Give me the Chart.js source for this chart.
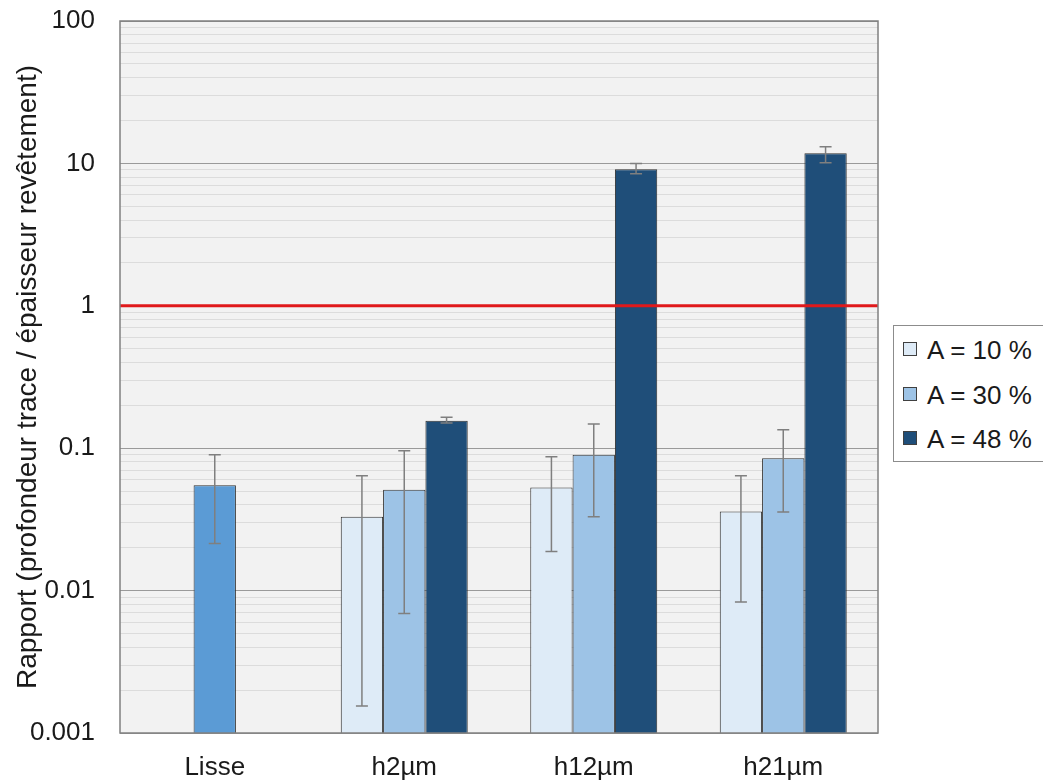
<!DOCTYPE html>
<html>
<head>
<meta charset="utf-8">
<script src="https://cdn.jsdelivr.net/npm/chart.js@4/dist/chart.umd.min.js"></script>
<style>
    body { margin: 0; background: #ffffff; font-family: "Liberation Sans", Arial, sans-serif; }
    #wrap { position: relative; width: 1043px; height: 783px; }
    #legend {
        position: absolute; left: 893px; top: 325px; width: 160px; height: 137px;
        border: 1px solid #8c8c8c; background: #ffffff; box-sizing: border-box;
    }
    .item { position: absolute; left: 33px; font-size: 26px; color: #1a1a1a; line-height: 30px; white-space: nowrap; }
    .swatch { position: absolute; left: 9px; width: 12px; height: 12px; border: 1px solid #404040; }
</style>
</head>
<body>
<div id="wrap">
    <canvas id="chart"></canvas>
    <div id="legend"></div>
</div>
<script>
// Categories and series
const categories = ['Lisse', 'h2\u00b5m', 'h12\u00b5m', 'h21\u00b5m'];
const seriesLabels = ['A = 10 %', 'A = 30 %', 'A = 48 %'];
const seriesColors = ['#DEEBF7', '#9DC3E6', '#1F4E79'];
const lisseColor = '#5B9BD5';

// Bar heights (ratio), null = no bar
const valuesA10 = [null, 0.033, 0.053, 0.036];
const valuesA30 = [0.055, 0.051, 0.090, 0.085];
const valuesA48 = [null, 0.156, 9.1, 11.8];

// Error bar ends (low / high)
const errLowA10 = [null, 0.00155, 0.0188, 0.0083];
const errHighA10 = [null, 0.064, 0.087, 0.064];
const errLowA30 = [0.0214, 0.0069, 0.033, 0.0357];
const errHighA30 = [0.090, 0.096, 0.148, 0.135];
const errLowA48 = [null, 0.150, 8.45, 10.1];
const errHighA48 = [null, 0.165, 9.97, 13.1];

// Reference line
const refValue = 1;

// Y axis ticks (log, labelled at powers of ten)
const tickLabels = ['0.001', '0.01', '0.1', '1', '10', '100'];

const errorData = [
    { low: errLowA10, high: errHighA10 },
    { low: errLowA30, high: errHighA30 },
    { low: errLowA48, high: errHighA48 }
];

// Plot background, error bars, red line and frame
const framePlugin = {
    id: 'frame',
    beforeDraw: (chart) => {
        const { ctx, chartArea: a } = chart;
        ctx.save();
        ctx.fillStyle = '#F2F2F2';
        ctx.fillRect(a.left, a.top, a.right - a.left, a.bottom - a.top);
        ctx.restore();
    },
    afterDatasetsDraw: (chart) => {
        const { ctx, chartArea: a } = chart;
        const y = chart.scales.y;

        // error bars
        ctx.save();
        ctx.strokeStyle = '#7F7F7F';
        ctx.lineWidth = 1.5;
        errorData.forEach((err, di) => {
            const meta = chart.getDatasetMeta(di);
            meta.data.forEach((bar, i) => {
                if (err.low[i] == null) return;
                const cx = bar.x;
                const yl = y.getPixelForValue(err.low[i]);
                const yh = y.getPixelForValue(err.high[i]);
                ctx.beginPath();
                ctx.moveTo(cx, yl); ctx.lineTo(cx, yh);
                ctx.moveTo(cx - 6, yl); ctx.lineTo(cx + 6, yl);
                ctx.moveTo(cx - 6, yh); ctx.lineTo(cx + 6, yh);
                ctx.stroke();
            });
        });
        ctx.restore();

        // red reference line
        ctx.save();
        const ry = y.getPixelForValue(refValue);
        ctx.strokeStyle = '#E0191B';
        ctx.lineWidth = 3;
        ctx.beginPath();
        ctx.moveTo(a.left, ry);
        ctx.lineTo(a.right, ry);
        ctx.stroke();

        // frame
        ctx.strokeStyle = '#808080';
        ctx.lineWidth = 1.5;
        ctx.strokeRect(a.left, a.top, a.right - a.left, a.bottom - a.top);
        ctx.restore();
    }
};

const datasets = [
    { label: seriesLabels[0], data: valuesA10, backgroundColor: seriesColors[0] },
    { label: seriesLabels[1], data: valuesA30,
      backgroundColor: valuesA30.map((v, i) => i === 0 ? lisseColor : seriesColors[1]) },
    { label: seriesLabels[2], data: valuesA48, backgroundColor: seriesColors[2] }
].map(ds => Object.assign(ds, {
    borderColor: '#303030',
    borderWidth: 1,
    categoryPercentage: 0.67,
    barPercentage: 1.0
}));

const isMajor = (v) => Math.abs(Math.log10(v) - Math.round(Math.log10(v))) < 1e-9;

new Chart(document.getElementById('chart'), {
    type: 'bar',
    data: { labels: categories, datasets: datasets },
    options: {
        responsive: true,
        maintainAspectRatio: false,
        animation: false,
        layout: { padding: { top: 21, right: 165, bottom: 0, left: 0 } },
        plugins: {
            legend: { display: false },
            tooltip: { enabled: false }
        },
        scales: {
            x: {
                grid: { display: false, drawTicks: false },
                border: { display: false },
                ticks: {
                    padding: 19,
                    color: '#1a1a1a',
                    font: { family: 'Liberation Sans', size: 26 }
                },
                afterFit: (scale) => {
                    scale.height = 50;
                    scale.paddingLeft = 0;
                    scale.paddingRight = 0;
                }
            },
            y: {
                type: 'logarithmic',
                min: 0.001,
                max: 100,
                border: { display: false },
                grid: {
                    drawTicks: false,
                    color: (c) => c.tick && isMajor(c.tick.value) ? '#9A9A9A' : '#DCDCDC',
                    lineWidth: 1
                },
                ticks: {
                    padding: 25,
                    color: '#1a1a1a',
                    autoSkip: false,
                    font: { family: 'Liberation Sans', size: 26 },
                    callback: (v) => {
                        if (!isMajor(v)) return '';
                        const e = Math.round(Math.log10(v));
                        return tickLabels[e + 3];
                    }
                },
                afterBuildTicks: (scale) => {
                    const list = [];
                    for (let e = -3; e < 2; e++) {
                        for (let k = 1; k < 10; k++) {
                            list.push({ value: k * Math.pow(10, e) });
                        }
                    }
                    list.push({ value: 100 });
                    scale.ticks = list;
                },
                title: {
                    display: true,
                    text: 'Rapport (profondeur trace / \u00e9paisseur rev\u00eatement)',
                    color: '#1a1a1a',
                    font: { family: 'Liberation Sans', size: 28 },
                    padding: { top: 11, bottom: 0 }
                },
                afterFit: (scale) => {
                    scale.width = 120;
                    scale.paddingTop = 0;
                    scale.paddingBottom = 0;
                }
            }
        }
    },
    plugins: [framePlugin]
});

// HTML legend
const legendBox = document.getElementById('legend');
seriesLabels.forEach((label, i) => {
    const sw = document.createElement('div');
    sw.className = 'swatch';
    sw.style.top = (16 + i * 44.5) + 'px';
    sw.style.background = seriesColors[i];
    legendBox.appendChild(sw);

    const el = document.createElement('div');
    el.className = 'item';
    el.style.top = (9 + i * 44.5) + 'px';
    el.textContent = label;
    legendBox.appendChild(el);
});
</script>
</body>
</html>
